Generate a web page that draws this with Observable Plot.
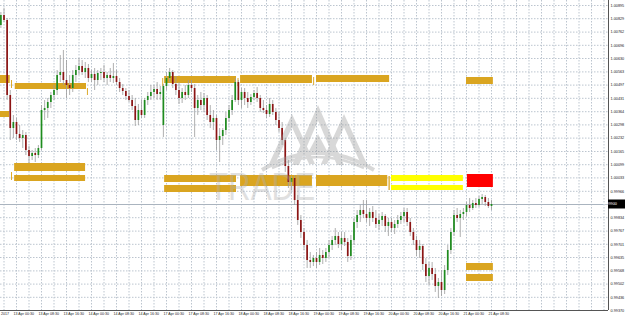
<!DOCTYPE html>
<html><head><meta charset="utf-8">
<script src="https://cdn.jsdelivr.net/npm/d3@7"></script>
<script src="https://cdn.jsdelivr.net/npm/@observablehq/plot@0.6"></script>
<style>body{margin:0;background:#fff}#chart{width:625px;height:319px;overflow:hidden}</style>
</head><body><div id="chart"></div>
<script>
// Hourly bars, bar 5 = 13 Apr 00:30
const opens=[1.00795,1.00845,1.00820,1.00445,1.00280,1.00310,1.00250,1.00230,1.00245,1.00170,1.00140,1.00155,1.00145,1.00180,1.00370,1.00380,1.00410,1.00445,1.00470,1.00545,1.00560,1.00520,1.00495,1.00480,1.00545,1.00570,1.00590,1.00560,1.00580,1.00530,1.00550,1.00520,1.00555,1.00560,1.00530,1.00545,1.00530,1.00540,1.00510,1.00480,1.00465,1.00440,1.00420,1.00390,1.00320,1.00370,1.00345,1.00420,1.00440,1.00460,1.00475,1.00450,1.00295,1.00490,1.00530,1.00560,1.00500,1.00470,1.00430,1.00460,1.00445,1.00495,1.00480,1.00380,1.00420,1.00395,1.00430,1.00345,1.00310,1.00330,1.00220,1.00240,1.00270,1.00330,1.00370,1.00420,1.00510,1.00420,1.00460,1.00430,1.00410,1.00435,1.00455,1.00430,1.00380,1.00370,1.00350,1.00400,1.00360,1.00320,1.00280,1.00220,1.00090,1.00010,1.00030,0.99920,0.99820,0.99760,0.99695,0.99620,0.99610,0.99630,0.99610,0.99645,0.99630,0.99660,0.99695,0.99720,0.99740,0.99700,0.99730,0.99710,0.99640,0.99720,0.99810,0.99845,0.99870,0.99850,0.99830,0.99860,0.99830,0.99800,0.99820,0.99840,0.99790,0.99810,0.99780,0.99800,0.99820,0.99840,0.99860,0.99810,0.99760,0.99720,0.99670,0.99690,0.99600,0.99540,0.99580,0.99550,0.99490,0.99510,0.99470,0.99570,0.99670,0.99760,0.99845,0.99830,0.99850,0.99860,0.99895,0.99880,0.99905,0.99895,0.99925,0.99935,0.99910,0.99890];
const highs=[1.00860,1.00880,1.00830,1.00470,1.00345,1.00330,1.00295,1.00270,1.00260,1.00190,1.00170,1.00180,1.00195,1.00395,1.00420,1.00430,1.00460,1.00495,1.00570,1.00645,1.00670,1.00620,1.00545,1.00570,1.00595,1.00630,1.00620,1.00610,1.00600,1.00570,1.00580,1.00570,1.00580,1.00595,1.00560,1.00580,1.00605,1.00570,1.00530,1.00500,1.00480,1.00470,1.00445,1.00430,1.00400,1.00420,1.00430,1.00460,1.00495,1.00495,1.00510,1.00490,1.00500,1.00560,1.00580,1.00570,1.00540,1.00510,1.00480,1.00495,1.00520,1.00520,1.00500,1.00445,1.00460,1.00455,1.00445,1.00395,1.00370,1.00345,1.00280,1.00280,1.00360,1.00395,1.00445,1.00530,1.00520,1.00480,1.00480,1.00460,1.00450,1.00470,1.00485,1.00445,1.00420,1.00395,1.00430,1.00420,1.00380,1.00360,1.00310,1.00230,1.00120,1.00040,1.00045,0.99945,0.99845,0.99780,0.99720,0.99660,0.99645,0.99660,0.99680,0.99670,0.99680,0.99720,0.99740,0.99780,0.99760,0.99760,0.99760,0.99730,0.99745,0.99830,0.99870,0.99895,0.99920,0.99920,0.99880,0.99890,0.99870,0.99850,0.99860,0.99850,0.99830,0.99830,0.99820,0.99845,0.99860,0.99880,0.99880,0.99830,0.99780,0.99740,0.99720,0.99700,0.99630,0.99610,0.99610,0.99580,0.99530,0.99570,0.99595,0.99695,0.99780,0.99870,0.99880,0.99870,0.99880,0.99910,0.99930,0.99920,0.99930,0.99940,0.99950,0.99945,0.99930,0.99920];
const lows=[1.00780,1.00810,1.00420,1.00220,1.00230,1.00220,1.00210,1.00180,1.00145,1.00105,1.00120,1.00110,1.00130,1.00170,1.00320,1.00330,1.00380,1.00420,1.00445,1.00510,1.00495,1.00430,1.00445,1.00460,1.00510,1.00545,1.00545,1.00530,1.00510,1.00510,1.00470,1.00495,1.00520,1.00510,1.00495,1.00510,1.00505,1.00495,1.00460,1.00445,1.00420,1.00410,1.00370,1.00290,1.00295,1.00330,1.00330,1.00395,1.00420,1.00430,1.00420,1.00420,1.00235,1.00470,1.00510,1.00480,1.00445,1.00400,1.00405,1.00420,1.00430,1.00460,1.00235,1.00345,1.00370,1.00360,1.00320,1.00280,1.00270,1.00170,1.00110,1.00195,1.00245,1.00310,1.00345,1.00410,1.00395,1.00380,1.00395,1.00380,1.00395,1.00420,1.00410,1.00360,1.00355,1.00330,1.00335,1.00345,1.00295,1.00260,1.00195,1.00060,0.99980,0.99970,0.99895,0.99795,0.99730,0.99670,0.99580,0.99580,0.99590,0.99580,0.99595,0.99600,0.99610,0.99630,0.99670,0.99695,0.99680,0.99670,0.99690,0.99610,0.99620,0.99695,0.99780,0.99810,0.99830,0.99810,0.99790,0.99810,0.99780,0.99770,0.99790,0.99760,0.99740,0.99760,0.99750,0.99780,0.99800,0.99810,0.99790,0.99740,0.99695,0.99640,0.99630,0.99570,0.99510,0.99495,0.99520,0.99460,0.99430,0.99440,0.99450,0.99545,0.99650,0.99740,0.99810,0.99735,0.99820,0.99840,0.99860,0.99870,0.99880,0.99885,0.99900,0.99890,0.99880,0.99870];
const closes=[1.00845,1.00820,1.00445,1.00280,1.00310,1.00250,1.00230,1.00245,1.00170,1.00140,1.00155,1.00145,1.00180,1.00370,1.00380,1.00410,1.00445,1.00470,1.00545,1.00560,1.00520,1.00495,1.00480,1.00545,1.00570,1.00590,1.00560,1.00580,1.00530,1.00550,1.00520,1.00555,1.00560,1.00530,1.00545,1.00530,1.00540,1.00510,1.00480,1.00465,1.00440,1.00420,1.00390,1.00320,1.00370,1.00345,1.00420,1.00440,1.00460,1.00475,1.00450,1.00460,1.00490,1.00530,1.00560,1.00500,1.00470,1.00430,1.00460,1.00445,1.00495,1.00480,1.00380,1.00420,1.00395,1.00430,1.00345,1.00310,1.00330,1.00220,1.00240,1.00270,1.00330,1.00370,1.00420,1.00510,1.00420,1.00460,1.00430,1.00410,1.00435,1.00455,1.00430,1.00380,1.00370,1.00350,1.00400,1.00360,1.00320,1.00280,1.00220,1.00090,1.00010,1.00030,0.99920,0.99820,0.99760,0.99695,0.99620,0.99610,0.99630,0.99610,0.99645,0.99630,0.99660,0.99695,0.99720,0.99740,0.99700,0.99730,0.99710,0.99640,0.99720,0.99810,0.99845,0.99870,0.99850,0.99830,0.99860,0.99830,0.99800,0.99820,0.99840,0.99790,0.99810,0.99780,0.99800,0.99820,0.99840,0.99860,0.99810,0.99760,0.99720,0.99670,0.99690,0.99600,0.99540,0.99580,0.99550,0.99490,0.99510,0.99470,0.99570,0.99670,0.99760,0.99845,0.99830,0.99850,0.99860,0.99895,0.99880,0.99905,0.99895,0.99925,0.99935,0.99910,0.99890,0.99900];

const priceTicks=[1.00895,1.00829,1.00762,1.00696,1.00630,1.00563,1.00497,1.00431,1.00364,1.00298,1.00232,1.00165,1.00099,1.00033,0.99966,0.99900,0.99834,0.99767,0.99701,0.99635,0.99568,0.99502,0.99436,0.99370];
const firstDateLabel="2017";
const dateIdx=[5,13,21,29,37,45,53,61,69,77,85,93,101,109,117,125,133,141,149,157];
const dateLabels=["13 Apr 00:30","13 Apr 08:30","13 Apr 16:30","14 Apr 00:30","14 Apr 08:30","14 Apr 16:30","17 Apr 00:30","17 Apr 08:30","17 Apr 16:30","18 Apr 00:30","18 Apr 08:30","18 Apr 16:30","19 Apr 00:30","19 Apr 08:30","19 Apr 16:30","20 Apr 00:30","20 Apr 08:30","20 Apr 16:30","21 Apr 00:30","21 Apr 08:30"];

// Supply/demand zones: bar range and price range
const zoneStart=[-0.5,-0.5,4.6,4.4,4.4,52.4,76.7,101,149,52.4,52.4,76.7,101,125,125,149.3,149,149,3.4,27.7,3.4,51.8,75.9,100.1,124.2];
const zoneEnd=[3,2.8,27.4,27.1,27.1,75.4,99.7,124.4,157.6,75.4,75.4,99.7,123.8,148,148,157.6,157.6,157.6,3.7,28,3.7,52.1,76.2,100.4,124.6];
const zoneTop=[1.00545,1.00365,1.00505,1.00105,1.00045,1.00540,1.00545,1.00545,1.00535,1.00045,0.99995,1.00045,1.00045,1.00045,0.99995,1.00050,0.99605,0.99550,1.00520,1.00480,1.00060,1.00530,1.00530,1.00535,1.00040];
const zoneBottom=[1.00505,1.00335,1.00475,1.00065,1.00015,1.00505,1.00505,1.00510,1.00500,1.00010,0.99960,0.99990,0.99990,1.00015,0.99970,0.99985,0.99570,0.99515,1.00480,1.00445,1.00020,1.00490,1.00490,1.00495,0.99970];
const zoneKind=["gold","gold","gold","gold","gold","gold","gold","gold","gold","gold","gold","gold","gold","yellow","yellow","red","gold","gold","gold","gold","gold","gold","gold","gold","gold"];

const zoneColor={gold:"#DAA520",yellow:"#FFFF00",red:"#FF0000"};
const bull="#1e8c1e", bear="#8c1414";

const bars=closes.map((c,i)=>({i,o:opens[i],h:highs[i],l:lows[i],c}));
const zones=zoneStart.map((s,k)=>({s,e:zoneEnd[k],t:zoneTop[k],b:zoneBottom[k],col:zoneColor[zoneKind[k]]}));
const lastClose=closes[closes.length-1];
const xDomain=[-0.12,194.44];
const yDomain=[0.99370,1.00920];
const gridIdx=d3.range(1,195,4);
// the axis label hidden behind the current-price box is not drawn
const shownTicks=priceTicks.filter(v=>Math.abs(v-lastClose)>0.0002);

const plot=Plot.plot({
  width:625,height:319,marginLeft:0,marginRight:17,marginTop:0,marginBottom:9,
  style:{background:"#fff",fontFamily:"Liberation Sans, Arial, sans-serif",overflow:"visible"},
  x:{domain:xDomain,axis:null},
  y:{domain:yDomain,axis:null},
  color:{type:"identity"},
  marks:[
    Plot.gridX(gridIdx,{stroke:"#bcc5cf",strokeOpacity:1,strokeDasharray:"1.5,1.5"}),
    Plot.gridY(priceTicks,{stroke:"#bcc5cf",strokeOpacity:1,strokeDasharray:"1.5,1.5"}),
    Plot.rect(zones,{x1:"s",x2:"e",y1:"t",y2:"b",fill:"col"}),
    Plot.ruleY([lastClose],{stroke:"#aab4bf",strokeWidth:1}),
    Plot.ruleX(bars,{x:"i",y1:"l",y2:"h",stroke:"#9c9c9c",strokeWidth:0.8,ariaLabel:"wicks"}),
    Plot.ruleX(bars,{x:"i",y1:"o",y2:"c",stroke:d=>d.c>=d.o?bull:bear,strokeWidth:1.7}),
    Plot.ruleX([xDomain[1]],{stroke:"#555",strokeWidth:1}),
    Plot.ruleY([yDomain[0]],{stroke:"#555",strokeWidth:1}),
    Plot.text(shownTicks,{y:d=>d,frameAnchor:"right",dx:2,textAnchor:"start",fontSize:3.8,fill:"#222",text:d=>d.toFixed(5)}),
    Plot.text(dateIdx,{x:d=>d,frameAnchor:"bottom",dy:4.5,dx:-3,textAnchor:"start",fontSize:3.6,fill:"#222",text:(d,i)=>dateLabels[i]}),
    Plot.text([firstDateLabel],{frameAnchor:"bottom-left",dy:4.5,dx:0.5,textAnchor:"start",fontSize:3.6,fill:"#222",text:d=>d})
  ]
});
document.getElementById("chart").appendChild(plot);

// watermark (decorative logo), placed below the candles
const svg=d3.select(plot);
const wicks=plot.querySelector('[aria-label="wicks"]');
const wm=d3.create("svg:g").attr("opacity",0.38);
function chevron(ax,ay,w,h,t){
  return `M${ax},${ay}L${ax+w},${ay+h}L${ax+w-t},${ay+h}L${ax},${ay+2.2*t}L${ax-w+t},${ay+h}L${ax-w},${ay+h}Z`;
}
wm.append("path").attr("d",chevron(292,114,23,50,6)).attr("fill","#9a9a9a");
wm.append("path").attr("d",chevron(344,114,23,50,6)).attr("fill","#9a9a9a");
wm.append("path").attr("d",chevron(318,105,26,60,7)).attr("fill","#9a9a9a");
wm.append("path").attr("d","M318,134L309,151L327,151Z").attr("fill","#9a9a9a");
wm.append("path").attr("d","M262,170Q318,136 374,170").attr("fill","none").attr("stroke","#9a9a9a").attr("stroke-width",4);
wm.append("path").attr("d","M272,168Q318,146 364,168").attr("fill","none").attr("stroke","#9a9a9a").attr("stroke-width",2.5);
wm.append("text").attr("x",262).attr("y",200).attr("font-size",38).attr("font-family","Liberation Sans, Arial, sans-serif")
  .attr("textLength",106).attr("lengthAdjust","spacingAndGlyphs").attr("fill","#b0b0b0").text("TRADE");
plot.insertBefore(wm.node(),wicks);

// current price box on the right axis
const yy=plot.scale("y").apply(lastClose);
svg.append("rect").attr("x",608).attr("y",yy-4.5).attr("width",17).attr("height",9).attr("fill","#000");
svg.append("text").attr("x",610).attr("y",yy).attr("dy","0.35em").attr("font-size",3.8).attr("fill","#fff")
  .attr("font-family","Liberation Sans, Arial, sans-serif").text(lastClose.toFixed(5));
</script>
</body></html>
